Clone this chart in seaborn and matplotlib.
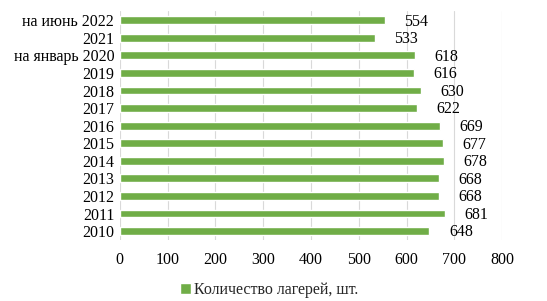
import pandas as pd
import matplotlib
matplotlib.use('Agg')
from matplotlib import pyplot as plt
import seaborn as sns

sns.set_theme(style = 'white')
plt.rcParams['font.family'] = ['Liberation Serif', 'DejaVu Serif']

# data, top to bottom as shown
years = ['на июнь 2022', '2021', 'на январь 2020', '2019', '2018', '2017', '2016',
         '2015', '2014', '2013', '2012', '2011', '2010']
camps = [554, 533, 618, 616, 630, 622, 669, 677, 678, 668, 668, 681, 648]
series_name = 'Количество лагерей, шт.'

df = pd.DataFrame({'year': years, 'count': camps, 'series': series_name})

fig, ax = plt.subplots(figsize = (5.47, 3.01), dpi = 100)
fig.subplots_adjust(left = 0.219, right = 0.918, top = 0.962, bottom = 0.203)

sns.barplot(data = df, y = 'year', x = 'count', hue = 'series', orient = 'h',
            palette = ['#70AD47'], saturation = 1, width = 0.45, ax = ax, zorder = 3)

# value labels
for p, v in zip(ax.patches, camps):
    ax.annotate(str(v), (p.get_width(), p.get_y() + p.get_height() / 2),
                xytext = (14, -1), textcoords = 'offset points',
                ha = 'left', va = 'center', fontsize = 11.5, color = '#000000')

ax.set_xlim(0, 800)
ax.set_xticks(range(0, 801, 100))
ax.xaxis.grid(True, color = '#D9D9D9', linewidth = 0.8, zorder = 0)
ax.yaxis.grid(False)
for s in ax.spines.values():
    s.set_visible(False)
ax.tick_params(axis = 'both', length = 0, labelsize = 11.5, colors = '#000000')
ax.tick_params(axis = 'x', pad = 9)
ax.tick_params(axis = 'y', pad = 4)
ax.set_xlabel('')
ax.set_ylabel('')

ax.legend(loc = 'upper center', bbox_to_anchor = (0.39, -0.12), frameon = False,
          fontsize = 11.5, handlelength = 0.7, handleheight = 0.7, handletextpad = 0.2)

plt.savefig('out.png', dpi = 100)
